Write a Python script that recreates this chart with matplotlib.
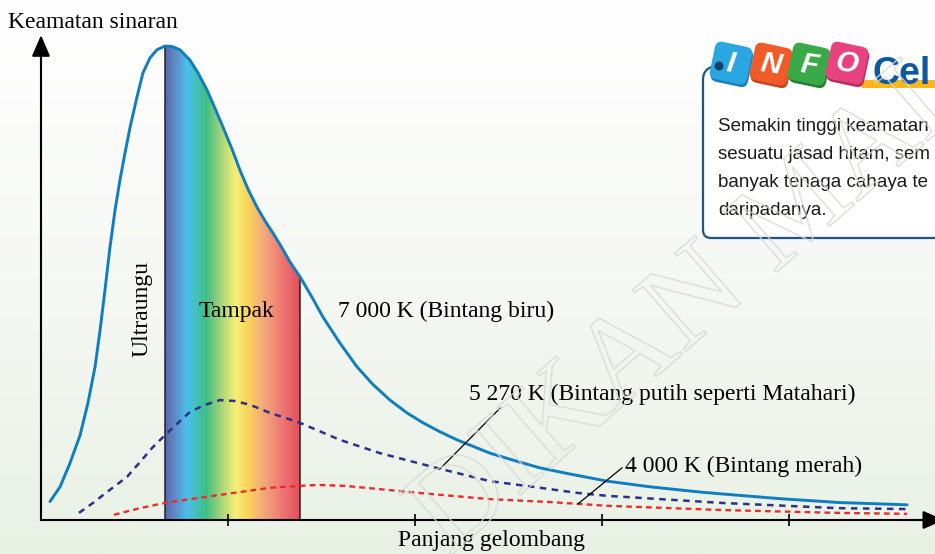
import numpy as np
import matplotlib
matplotlib.use("Agg")
import matplotlib.pyplot as plt
from matplotlib.colors import LinearSegmentedColormap
from matplotlib.patches import Polygon, FancyBboxPatch, Rectangle, Circle, PathPatch
from matplotlib.path import Path
from matplotlib.textpath import TextPath
from matplotlib.font_manager import FontProperties
from matplotlib.transforms import Affine2D

# values: wavelength in tick units, intensity with the 7 000 K peak = 100
wl_7000 = [0.048, 0.102, 0.155, 0.209, 0.251, 0.289, 0.316, 0.342, 0.369, 0.396, 0.422,
           0.449, 0.476, 0.513, 0.545, 0.583, 0.620, 0.663, 0.701, 0.743, 0.797, 0.840,
           0.888, 0.930, 0.973, 1.021, 1.064, 1.107, 1.155, 1.198, 1.241, 1.289, 1.332,
           1.385, 1.449, 1.508, 1.599, 1.690, 1.775, 1.866, 1.957, 2.043, 2.134, 2.225,
           2.401, 2.561, 2.668, 2.829, 3.027, 3.257, 3.524, 3.642, 3.952, 4.262, 4.631]
int_7000 = [3.9, 7.0, 12.0, 17.9, 24.7, 32.3, 40.1, 48.5, 57.6, 65.4, 71.7,
            77.4, 82.8, 89.2, 94.3, 97.5, 99.2, 100.0, 99.9, 99.2, 97.0, 94.3,
            90.7, 86.9, 82.9, 78.3, 73.8, 69.8, 66.0, 63.1, 60.5, 57.4, 54.4,
            51.3, 47.0, 42.8, 37.3, 32.3, 28.6, 25.3, 22.6, 20.5, 18.6, 16.9,
            14.1, 12.2, 11.0, 9.7, 8.2, 7.0, 5.9, 5.5, 4.5, 3.7, 3.2]

wl_5270 = [0.203, 0.278, 0.353, 0.460, 0.529, 0.594, 0.663, 0.733, 0.797, 0.877, 0.957,
           1.037, 1.118, 1.225, 1.385, 1.599, 1.813, 2.134, 2.401, 2.668, 2.872, 3.027,
           3.642, 4.262, 4.631]
int_5270 = [1.5, 3.6, 5.9, 9.1, 12.2, 15.2, 17.9, 20.5, 22.8, 24.3, 25.3,
            25.1, 24.3, 22.6, 20.5, 16.9, 14.1, 10.8, 8.2, 6.8, 5.7, 5.1,
            3.6, 2.5, 2.3]

wl_4000 = [0.390, 0.529, 0.663, 0.797, 0.957, 1.064, 1.225, 1.385, 1.481, 1.626, 1.813,
           2.080, 2.401, 2.717, 3.027, 3.642, 4.262, 4.631]
int_4000 = [1.1, 2.5, 3.6, 4.4, 5.3, 5.9, 6.8, 7.2, 7.4, 7.2, 6.5,
            5.5, 4.4, 3.8, 3.0, 2.1, 1.5, 1.3]

tick_pos = [1, 2, 3, 4]
visible_band = (0.663, 1.385)

labels = {
    "y": "Keamatan sinaran",
    "x": "Panjang gelombang",
    "uv": "Ultraungu",
    "vis": "Tampak",
    "t7000": "7 000 K (Bintang biru)",
    "t5270": "5 270 K (Bintang putih seperti Matahari)",
    "t4000": "4 000 K (Bintang merah)",
}
info_lines = ["Semakin tinggi keamatan", "sesuatu jasad hitam, sem",
              "banyak tenaga cahaya te", "daripadanya."]

plt.rcParams['font.family'] = ['Liberation Serif', 'DejaVu Serif']

fig = plt.figure(figsize=(9.35, 5.54), dpi=100)

# soft background gradient
bg = fig.add_axes([0, 0, 1, 1], zorder=0)
bg.imshow(np.linspace(0, 1, 256)[:, None], aspect='auto', extent=(0, 1, 0, 1),
          cmap=LinearSegmentedColormap.from_list('bg', ['#ffffff', '#f6f8f4', '#e9f1e5']))
bg.set_axis_off()

# main plot, scaled so that the axes fill the image
ax = fig.add_axes([0, 0, 1, 1], zorder=1)
ax.patch.set_alpha(0)
xlim = (-41 / 187, 894 / 187)
ylim = (-34 / 4.74, 520 / 4.74)

spec = LinearSegmentedColormap.from_list('spec', [
    (0.0, '#5d68aa'), (0.08, '#5f8fc9'), (0.16, '#4cc0ee'), (0.30, '#3dbf86'),
    (0.40, '#9cd17a'), (0.52, '#f6ef76'), (0.61, '#fbd45a'), (0.73, '#f2a87c'),
    (0.88, '#ee7171'), (1.0, '#df4f5b')])
xl, xr = visible_band
bx = np.linspace(xl, xr, 80)
by = np.interp(bx, wl_7000, int_7000)
clip = Polygon(np.column_stack([np.r_[xl, bx, xr], np.r_[0, by, 0]]), closed=True,
               fc='none', ec='none', transform=ax.transData)
ax.add_patch(clip)
im = ax.imshow(np.linspace(0, 1, 300)[None, :], cmap=spec, aspect='auto',
               extent=(xl, xr, 0, 101), zorder=1)
im.set_clip_path(clip)
ax.vlines([xl, xr], 0, np.interp([xl, xr], wl_7000, int_7000), color='#222222', lw=1.1, zorder=2)

ax.plot(wl_4000, int_4000, color='#ee2a2a', lw=1.7, dashes=(2.4, 1.8), zorder=3)
ax.plot(wl_5270, int_5270, color='#2c2f8e', lw=1.8, dashes=(2.6, 2.2), zorder=3)
ax.plot(wl_7000, int_7000, color='#0f7dc2', lw=2.1, zorder=4,
        solid_capstyle='round', solid_joinstyle='round')

# leader lines to the curves
ax.plot([2.455, 2.134], [23.6, 10.8], color='black', lw=0.9, zorder=5)
ax.plot([3.107, 2.872], [11.0, 3.4], color='black', lw=0.9, zorder=5)

ax.set_xlim(*xlim)
ax.set_ylim(*ylim)
for s in ['top', 'right']:
    ax.spines[s].set_visible(False)
for s in ['left', 'bottom']:
    ax.spines[s].set_position(('data', 0))
    ax.spines[s].set_linewidth(1.5)
ax.spines['left'].set_bounds(0, 100)
ax.spines['bottom'].set_bounds(0, 4.75)
ax.set_xticks(tick_pos)
ax.set_xticklabels([])
ax.set_yticks([])
ax.tick_params(axis='x', direction='inout', length=8, width=1.2, color='black')
arrow = dict(arrowstyle='-|>,head_length=0.65,head_width=0.28', mutation_scale=20,
             color='black', lw=1.5, shrinkA=0, shrinkB=0)
ax.annotate('', xy=(0, 102.3), xytext=(0, 96), arrowprops=arrow, annotation_clip=False)
ax.annotate('', xy=(4.83, 0), xytext=(4.65, 0), arrowprops=arrow, annotation_clip=False)

# overlay in pixel coordinates for labels and the info box
pix = fig.add_axes([0, 0, 1, 1], zorder=2)
pix.patch.set_alpha(0)
pix.set_xlim(0, 935)
pix.set_ylim(554, 0)
pix.set_axis_off()

fs = 17
pix.text(8, 28, labels["y"], fontsize=fs, va='baseline')
pix.text(492, 546, labels["x"], fontsize=fs, va='baseline', ha='center')
pix.text(142, 309, labels["uv"], fontsize=fs, rotation=90, ha='center', va='center')
pix.text(236, 317, labels["vis"], fontsize=fs, ha='center', va='baseline')
pix.text(338, 317, labels["t7000"], fontsize=fs, va='baseline')
pix.text(469, 400, labels["t5270"], fontsize=fs, va='baseline')
pix.text(625, 472, labels["t4000"], fontsize=fs, va='baseline')

# info box
pix.add_patch(Rectangle((703, 66), 240, 172, fc='white', ec='none', zorder=1))
frame = Path([(719, 66), (703, 66), (703, 80), (703, 230), (703, 238), (711, 238), (945, 238)],
             [Path.MOVETO, Path.CURVE3, Path.CURVE3, Path.LINETO, Path.CURVE3, Path.CURVE3, Path.LINETO])
pix.add_patch(PathPatch(frame, fc='none', ec='#1f5486', lw=1.6, zorder=2))
pix.add_patch(Circle((719, 66), 4.5, fc='#173f6c', ec='none', zorder=4))
pix.add_patch(Rectangle((862, 80), 80, 8, fc='#fbb61a', ec='none', zorder=2))

for (cx, cy, col, dark, ch) in [(731, 63, '#2aa7e0', '#1b7dbd', 'I'), (771, 64, '#f15a29', '#c8461c', 'N'),
                                 (809, 64, '#3aaa48', '#237f34', 'F'), (847, 63, '#e8437f', '#b82e63', 'O')]:
    for off, c in [((1.5, 2.5), dark), ((0, 0), col)]:
        p = FancyBboxPatch((cx - 19 + off[0], cy - 19 + off[1]), 38, 38,
                           boxstyle='round,pad=0,rounding_size=7', fc=c, ec='none', zorder=3)
        p.set_transform(Affine2D().rotate_deg_around(cx, cy, 12) + pix.transData)
        pix.add_patch(p)
    pix.text(cx, cy + 1, ch, color='white', fontsize=21, fontweight='bold', fontstyle='italic',
             family=['Liberation Sans', 'DejaVu Sans'], ha='center', va='center', rotation=-8, zorder=4)
pix.text(872, 84, "Cel", color='#0d57a3', fontsize=27, fontweight='bold',
         family=['Liberation Sans', 'DejaVu Sans'], va='baseline', zorder=4)

for i, line in enumerate(info_lines):
    pix.text(718, 131 + 28 * i, line, fontsize=13.5, va='baseline', color='#1a1a1a',
             family=['Liberation Sans', 'DejaVu Sans'], zorder=4)

# faint diagonal watermark
tp = TextPath((0, 0), "DIKAN MALAYSIA", size=124, prop=FontProperties(family='Liberation Serif'))
wm = Affine2D().scale(1, -1).rotate_deg(-41).translate(449, 557).transform_path(tp)
pix.add_patch(PathPatch(wm, fc='none', ec='#d6dad3', lw=1.1, alpha=0.8, zorder=6))

fig.savefig('out.png', dpi=100)
